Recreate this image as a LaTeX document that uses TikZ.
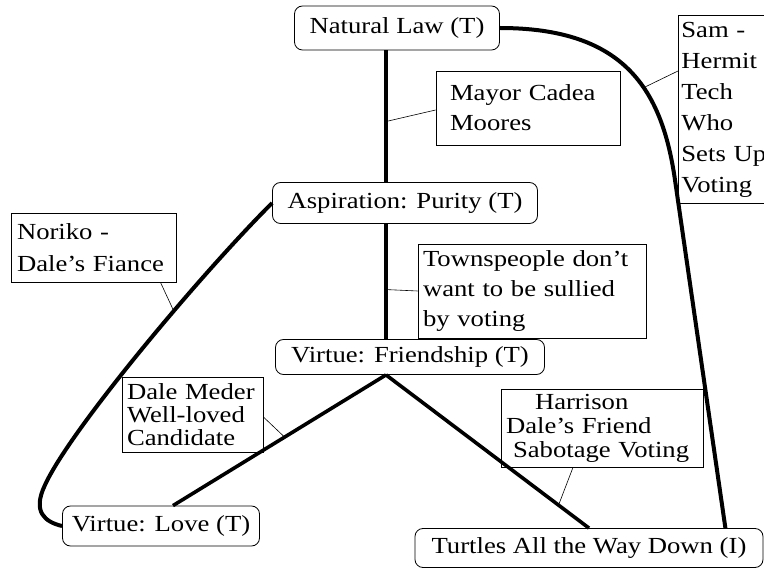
\documentclass[tikz,border=0pt]{standalone}
\usepackage{fontspec}
\setmainfont[FakeStretch=1.16]{Liberation Serif}
\begin{document}
\begin{tikzpicture}[x=1pt,y=-1pt,
    topic/.style={draw,rounded corners=8pt,line width=0.8pt,inner sep=0pt,font=\fontsize{23}{30}\selectfont},
    note/.style={draw,line width=0.8pt,inner xsep=5pt,inner ysep=0pt,align=left,font=\fontsize{23}{30}\selectfont},
    link/.style={line width=3.6pt},
    curvelink/.style={line width=4pt},
    leader/.style={line width=0.6pt}]

\useasboundingbox (0,0) rectangle (764,569);
\coordinate (trunk) at (386,0);

	% story layers
	\node[topic,minimum width=205pt,minimum height=44pt] (law) at (397,28) {Natural Law (T)};
	\node[topic,minimum width=265pt,minimum height=41pt] (asp) at (405,203) {Aspiration: Purity (T)};
	\node[topic,minimum width=269pt,minimum height=35pt] (fr) at (410,357) {Virtue: Friendship (T)};
	\node[topic,minimum width=197pt,minimum height=40pt] (love) at (161,526) {Virtue: Love (T)};
	\node[topic,minimum width=348pt,minimum height=39pt] (tur) at (589,548) {Turtles All the Way Down (I)};

	% characters
	\node[note,inner xsep=14pt,text width=156pt,minimum height=74pt] (mayor) at (528,108) {Mayor Cadea\\Moores};
	\node[note,anchor=north west,inner xsep=3pt,text width=100pt,minimum height=188pt,font=\fontsize{23}{31}\selectfont] (sam) at (678,15) {Sam -\\Hermit\\Tech\\Who\\Sets Up\\Voting};
	\node[note,inner xsep=6pt,text width=153pt,minimum height=69pt,font=\fontsize{23}{32}\selectfont] (noriko) at (93.5,247.5) {Noriko -\\Dale's Fiance};
	\node[note,text width=218pt,minimum height=94pt] (towns) at (532,291) {Townspeople don't\\want to be sullied\\by voting};
	\node[note,text width=131pt,minimum height=75pt,font=\fontsize{23}{23}\selectfont] (dale) at (192.5,414.5) {Dale Meder\\Well-loved\\Candidate};
	\node[note,text width=192pt,minimum height=78pt,font=\fontsize{23}{24}\selectfont] (harr) at (602,428) {\hspace*{29pt}Harrison\\Dale's Friend\\\hspace*{7pt}Sabotage Voting};

	% links
	\draw[link] (law.south -| trunk) -- coordinate[pos=0.54] (m1) (asp.north -| trunk);
	\draw[link] (asp.south -| trunk) -- coordinate[pos=0.57] (m4) (fr.north -| trunk);
	\draw[link] (fr.south -| trunk) -- coordinate[pos=0.476] (m5) ([xshift=12pt]love.north);
	\draw[link] (fr.south -| trunk) -- coordinate[pos=0.85] (m6) (tur.north);
	\draw[curvelink] (law.east) .. controls +(125,0) and +(-13,-90) .. coordinate[pos=0.6] (m2) (675,180) -- ([xshift=-38pt]tur.north east);
	\draw[curvelink] (asp.west) .. controls (200,275) and (70,430) .. coordinate[pos=0.38] (m3) (45,485)
	    .. controls (32,512) and (45,522) .. (love.west);

	% leaders
	\draw[leader] (m1) -- ([yshift=-2pt]mayor.west);
	\draw[leader] (m2) -- ([yshift=-56pt]sam.north west);
	\draw[leader] (m3) -- ([xshift=67pt]noriko.south);
	\draw[leader] (m4) -- (towns.west);
	\draw[leader] (m5) -- ([yshift=-2.5pt]dale.east);
	\draw[leader] (m6) -- ([xshift=-29pt]harr.south);

\end{tikzpicture}
\end{document}
